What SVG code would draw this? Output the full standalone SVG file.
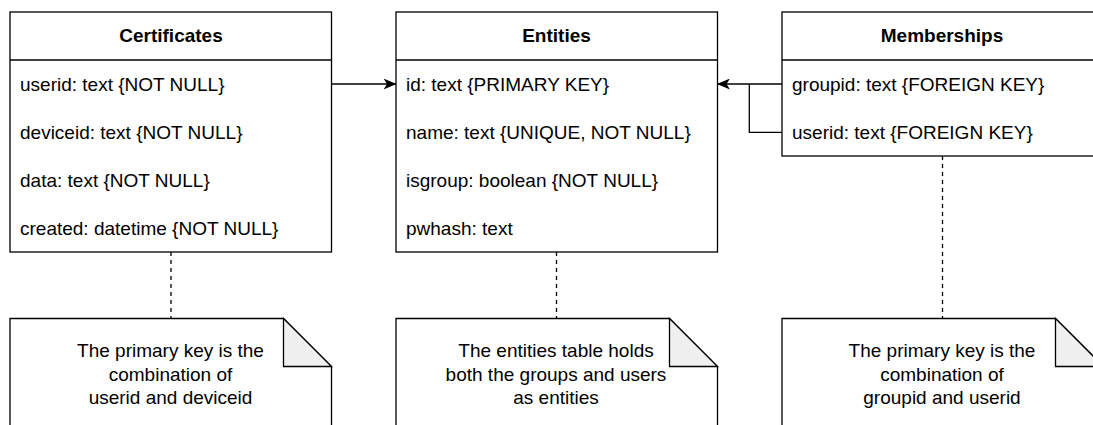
<svg xmlns="http://www.w3.org/2000/svg" width="1093" height="425" viewBox="0 0 1093 425">
<style>
.box{fill:#ffffff;stroke:#000000;stroke-width:1.3}
.div{stroke:#000000;stroke-width:1.3;fill:none}
.title{font-family:"Liberation Sans",Arial,sans-serif;font-size:19px;font-weight:bold;fill:#000000;text-anchor:middle}
.row{font-family:"Liberation Sans",Arial,sans-serif;font-size:19px;fill:#000000}
.note{fill:#ffffff;stroke:#000000;stroke-width:1.3}
.fold{fill:#f0f0f0;stroke:#000000;stroke-width:1.3;stroke-linejoin:miter}
.ntext{font-family:"Liberation Sans",Arial,sans-serif;font-size:19px;fill:#000000;text-anchor:middle}
.conn{fill:none;stroke:#000000;stroke-width:1.3}
.dash{fill:none;stroke:#000000;stroke-width:1.3;stroke-dasharray:4 4}
</style>
<defs>
<marker id="arrow" markerUnits="userSpaceOnUse" viewBox="0 0 13 11" refX="12.5" refY="5.5" markerWidth="13" markerHeight="11" orient="auto">
<path d="M0,0 L13,5.5 L0,11 L3.5,5.5 Z" fill="#000000"/>
</marker>
</defs>
<rect width="1093" height="425" fill="#ffffff"/>

<g id="connectors">
<path class="conn" d="M331.5,84 L396,84" marker-end="url(#arrow)"/>
<path class="conn" d="M782,84 L717.5,84" marker-end="url(#arrow)"/>
<path class="conn" d="M782,132.3 L749.3,132.3 L749.3,84"/>
<path class="dash" d="M171,252 V318.5"/>
<path class="dash" d="M556.5,252 V318.5"/>
<path class="dash" d="M942.5,156 V318.5"/>
</g>

<g id="certificates">
<rect class="box" x="10" y="12" width="321.5" height="240"/>
<path class="div" d="M10,60 H331.5"/>
<text class="title" x="171" y="42">Certificates</text>
<text class="row" x="20" y="90.5">userid: text {NOT NULL}</text>
<text class="row" x="20" y="138.5">deviceid: text {NOT NULL}</text>
<text class="row" x="20" y="186.5">data: text {NOT NULL}</text>
<text class="row" x="20" y="234.5">created: datetime {NOT NULL}</text>
</g>

<g id="entities">
<rect class="box" x="396" y="12" width="321.5" height="240"/>
<path class="div" d="M396,60 H717.5"/>
<text class="title" x="556.5" y="42">Entities</text>
<text class="row" x="406" y="90.5">id: text {PRIMARY KEY}</text>
<text class="row" x="406" y="138.5">name: text {UNIQUE, NOT NULL}</text>
<text class="row" x="406" y="186.5">isgroup: boolean {NOT NULL}</text>
<text class="row" x="406" y="234.5">pwhash: text</text>
</g>

<g id="memberships">
<rect class="box" x="782" y="12" width="321.5" height="144"/>
<path class="div" d="M782,60 H1103.5"/>
<text class="title" x="942" y="42">Memberships</text>
<text class="row" x="792" y="90.5">groupid: text {FOREIGN KEY}</text>
<text class="row" x="792" y="138.5">userid: text {FOREIGN KEY}</text>
</g>

<g id="note-certificates">
<path class="note" d="M10,318.5 L283.5,318.5 L331.5,366.5 L331.5,440 L10,440 Z"/>
<path class="fold" d="M283.5,318.5 L283.5,366.5 L331.5,366.5 Z"/>
<text class="ntext" x="170.5" y="357">The primary key is the</text>
<text class="ntext" x="170.5" y="380.5">combination of</text>
<text class="ntext" x="170.5" y="404">userid and deviceid</text>
</g>

<g id="note-entities">
<path class="note" d="M396,318.5 L669.5,318.5 L717.5,366.5 L717.5,440 L396,440 Z"/>
<path class="fold" d="M669.5,318.5 L669.5,366.5 L717.5,366.5 Z"/>
<text class="ntext" x="556" y="357">The entities table holds</text>
<text class="ntext" x="556" y="380.5">both the groups and users</text>
<text class="ntext" x="556" y="404">as entities</text>
</g>

<g id="note-memberships">
<path class="note" d="M782,318.5 L1055.5,318.5 L1103.5,366.5 L1103.5,440 L782,440 Z"/>
<path class="fold" d="M1055.5,318.5 L1055.5,366.5 L1103.5,366.5 Z"/>
<text class="ntext" x="942" y="357">The primary key is the</text>
<text class="ntext" x="942" y="380.5">combination of</text>
<text class="ntext" x="942" y="404">groupid and userid</text>
</g>
</svg>
